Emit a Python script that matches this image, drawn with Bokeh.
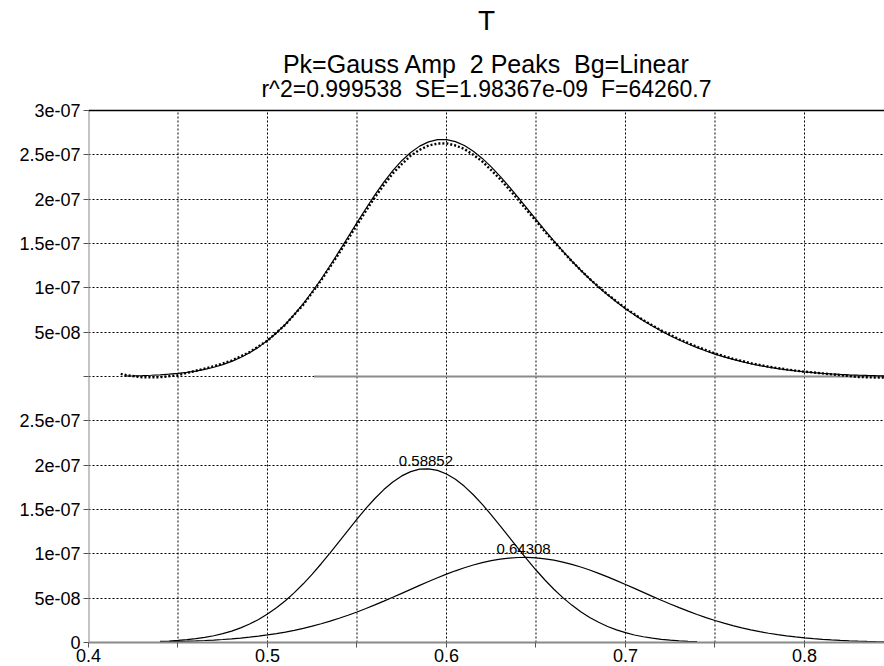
from bokeh.plotting import figure
from bokeh.models import Range1d, FixedTicker, Span, ColumnDataSource
from bokeh.core.properties import value
from bokeh.embed import file_html
from bokeh.resources import INLINE

# ---------------- data (y values in units of 1e-7) ----------------
UNIT = 1e-7
TOP_OFFSET = 3.0  # upper panel is stacked on top of the lower one (in 1e-7 units)

data_x = [0.418, 0.42, 0.43, 0.44, 0.45, 0.46, 0.47, 0.48, 0.49, 0.50, 0.51, 0.52,
          0.53, 0.54, 0.545, 0.55, 0.555, 0.56, 0.565, 0.57, 0.575, 0.58, 0.585, 0.59,
          0.595, 0.60, 0.605, 0.61, 0.615, 0.62, 0.625, 0.63, 0.635, 0.64, 0.645,
          0.65, 0.655, 0.66, 0.67, 0.68, 0.69, 0.70, 0.71, 0.72, 0.73, 0.74, 0.75, 0.76,
          0.77, 0.78, 0.79, 0.80, 0.81, 0.82, 0.83, 0.84, 0.845]
data_y = [0.03, 0.02, -0.01, -0.008, 0.015, 0.065, 0.115, 0.18, 0.275, 0.405, 0.585, 0.81,
          1.085, 1.39, 1.55, 1.71, 1.868, 2.02, 2.16, 2.29, 2.395, 2.49, 2.556, 2.605,
          2.627, 2.63, 2.605, 2.565, 2.50, 2.425, 2.327, 2.225, 2.112, 1.995, 1.873,
          1.755, 1.634, 1.52, 1.30, 1.10, 0.925, 0.77, 0.635, 0.52, 0.42, 0.335, 0.26, 0.20,
          0.15, 0.11, 0.08, 0.055, 0.035, 0.015, -0.005, -0.012, -0.012]

fit_x = [0.420, 0.425, 0.430, 0.435, 0.440, 0.445, 0.450, 0.455, 0.460, 0.465,
         0.470, 0.475, 0.480, 0.485, 0.490, 0.495, 0.500, 0.505, 0.510, 0.515,
         0.520, 0.525, 0.530, 0.535, 0.540, 0.545, 0.550, 0.555, 0.560, 0.565,
         0.570, 0.575, 0.580, 0.585, 0.590, 0.595, 0.600, 0.605, 0.610, 0.615,
         0.620, 0.625, 0.630, 0.635, 0.640, 0.645, 0.650, 0.655, 0.660, 0.665,
         0.670, 0.675, 0.680, 0.685, 0.690, 0.695, 0.700, 0.705, 0.710, 0.715,
         0.720, 0.725, 0.730, 0.735, 0.740, 0.745, 0.750, 0.755, 0.760, 0.765,
         0.770, 0.775, 0.780, 0.785, 0.790, 0.795, 0.800, 0.805, 0.810, 0.815,
         0.820, 0.825, 0.830, 0.835, 0.840, 0.845]
fit_y = [0.0054, 0.0075, 0.0103, 0.0141, 0.0192, 0.0260, 0.0349, 0.0464, 0.0612, 0.0801,
         0.1039, 0.1336, 0.1701, 0.2144, 0.2678, 0.3312, 0.4055, 0.4914, 0.5894, 0.6997,
         0.8220, 0.9557, 1.0996, 1.2519, 1.4106, 1.5727, 1.7354, 1.8952, 2.0483, 2.1914,
         2.3210, 2.4336, 2.5268, 2.5983, 2.6466, 2.6710, 2.6716, 2.6489, 2.6046, 2.5406,
         2.4594, 2.3638, 2.2568, 2.1414, 2.0203, 1.8965, 1.7720, 1.6489, 1.5291, 1.4135,
         1.3031, 1.1985, 1.0999, 1.0074, 0.9210, 0.8403, 0.7650, 0.6950, 0.6298, 0.5691,
         0.5127, 0.4604, 0.4119, 0.3671, 0.3257, 0.2877, 0.2530, 0.2213, 0.1927, 0.1669,
         0.1438, 0.1232, 0.1049, 0.0889, 0.0749, 0.0627, 0.0522, 0.0432, 0.0355, 0.0291,
         0.0237, 0.0191, 0.0154, 0.0123, 0.0098, 0.0077]

bg_x = [0.526, 0.845]
bg_y = [0.0, 0.0]

peak1_x = [0.440, 0.445, 0.450, 0.455, 0.460, 0.465, 0.470, 0.475, 0.480, 0.485,
           0.490, 0.495, 0.500, 0.505, 0.510, 0.515, 0.520, 0.525, 0.530, 0.535,
           0.540, 0.545, 0.550, 0.555, 0.560, 0.565, 0.570, 0.575, 0.580, 0.585,
           0.590, 0.595, 0.600, 0.605, 0.610, 0.615, 0.620, 0.625, 0.630, 0.635,
           0.640, 0.645, 0.650, 0.655, 0.660, 0.665, 0.670, 0.675, 0.680, 0.685,
           0.690, 0.695, 0.700, 0.705, 0.710, 0.715, 0.720, 0.725, 0.730, 0.735, 0.740]
peak1_y = [0.0120, 0.0168, 0.0232, 0.0318, 0.0431, 0.0576, 0.0762, 0.0997, 0.1289, 0.1646,
           0.2079, 0.2596, 0.3204, 0.3909, 0.4714, 0.5620, 0.6622, 0.7714, 0.8883, 1.0111,
           1.1377, 1.2653, 1.3912, 1.5120, 1.6243, 1.7250, 1.8109, 1.8791, 1.9275, 1.9545,
           1.9590, 1.9409, 1.9010, 1.8404, 1.7613, 1.6662, 1.5581, 1.4403, 1.3161, 1.1888,
           1.0614, 0.9369, 0.8174, 0.7049, 0.6010, 0.5065, 0.4219, 0.3474, 0.2828, 0.2275,
           0.1810, 0.1423, 0.1106, 0.0850, 0.0645, 0.0484, 0.0359, 0.0264, 0.0191, 0.0137, 0.0097]

peak2_x = [0.440, 0.445, 0.450, 0.455, 0.460, 0.465, 0.470, 0.475, 0.480, 0.485,
           0.490, 0.495, 0.500, 0.505, 0.510, 0.515, 0.520, 0.525, 0.530, 0.535,
           0.540, 0.545, 0.550, 0.555, 0.560, 0.565, 0.570, 0.575, 0.580, 0.585,
           0.590, 0.595, 0.600, 0.605, 0.610, 0.615, 0.620, 0.625, 0.630, 0.635,
           0.640, 0.645, 0.650, 0.655, 0.660, 0.665, 0.670, 0.675, 0.680, 0.685,
           0.690, 0.695, 0.700, 0.705, 0.710, 0.715, 0.720, 0.725, 0.730, 0.735,
           0.740, 0.745, 0.750, 0.755, 0.760, 0.765, 0.770, 0.775, 0.780, 0.785,
           0.790, 0.795, 0.800, 0.805, 0.810, 0.815, 0.820, 0.825, 0.830, 0.835,
           0.840, 0.845]
peak2_y = [0.0073, 0.0092, 0.0116, 0.0146, 0.0182, 0.0225, 0.0277, 0.0339, 0.0412, 0.0498,
           0.0599, 0.0716, 0.0851, 0.1005, 0.1180, 0.1377, 0.1598, 0.1843, 0.2113, 0.2408,
           0.2729, 0.3074, 0.3442, 0.3832, 0.4240, 0.4664, 0.5101, 0.5545, 0.5993, 0.6438,
           0.6876, 0.7301, 0.7706, 0.8085, 0.8433, 0.8744, 0.9013, 0.9235, 0.9407, 0.9526,
           0.9589, 0.9596, 0.9546, 0.9440, 0.9281, 0.9070, 0.8812, 0.8511, 0.8171, 0.7799,
           0.7400, 0.6980, 0.6544, 0.6100, 0.5653, 0.5207, 0.4768, 0.4340, 0.3928, 0.3534,
           0.3160, 0.2809, 0.2483, 0.2181, 0.1905, 0.1654, 0.1428, 0.1225, 0.1045, 0.0886,
           0.0747, 0.0626, 0.0521, 0.0432, 0.0355, 0.0291, 0.0237, 0.0191, 0.0154, 0.0123,
           0.0098, 0.0077]

peak_centers = [0.58852, 0.64308]
peak_heights = [1.96, 0.96]
peak_labels = ["0.58852", "0.64308"]

x_ticks = [0.4, 0.45, 0.5, 0.55, 0.6, 0.65, 0.7, 0.75, 0.8]
x_tick_labels = ["0.4", "", "0.5", "", "0.6", "", "0.7", "", "0.8"]
y_ticks = [0.0, 0.5, 1.0, 1.5, 2.0, 2.5, 3.0, 3.5, 4.0, 4.5, 5.0, 5.5, 6.0]
y_tick_labels = ["0", "5e-08", "1e-07", "1.5e-07", "2e-07", "2.5e-07", "",
                 "5e-08", "1e-07", "1.5e-07", "2e-07", "2.5e-07", "3e-07"]

NB = "\u00a0"
title_lines = ["T",
               "Pk=Gauss Amp " + NB + "2 Peaks " + NB + "Bg=Linear",
               "r^2=0.999538 " + NB + "SE=1.98367e-09 " + NB + "F=64260.7"]
title_sizes = ["28px", "25px", "23px"]
title_rise = [90, 47, 22]   # distance of each line's centre above the top of the plotting box, px

FONT = "Liberation Sans"
X_MIN, X_MAX = 0.4, 0.8447
Y_MIN, Y_MAX = 0.0, 6.0 * UNIT
PLOT_PX, HEADER_PX = 532, 110       # plotting box height and header height above it
Y_TOP = Y_MAX * (PLOT_PX + HEADER_PX) / PLOT_PX

# ---------------- figure ----------------
p = figure(width=884, height=666, output_backend="svg", toolbar_location=None,
           x_range=Range1d(X_MIN, X_MAX), y_range=Range1d(Y_MIN, Y_TOP),
           min_border_left=88, min_border_right=0, min_border_top=0, min_border_bottom=24,
           title=None)
p.outline_line_color = None
p.background_fill_color = "white"
p.border_fill_color = "white"

# axes
p.xaxis.ticker = FixedTicker(ticks=x_ticks)
p.xaxis.major_label_overrides = {t: l for t, l in zip(x_ticks, x_tick_labels)}
p.yaxis.ticker = FixedTicker(ticks=[v * UNIT for v in y_ticks])
p.yaxis.major_label_overrides = {v * UNIT: l for v, l in zip(y_ticks, y_tick_labels)}
for ax in (p.xaxis, p.yaxis):
    ax.axis_line_color = "#8a8a8a"
    ax.axis_line_width = 2
    ax.major_tick_line_color = "#555555"
    ax.major_tick_in = 0
    ax.major_tick_out = 5
    ax.minor_tick_line_color = None
    ax.major_label_text_font = FONT
    ax.major_label_text_color = "black"
p.yaxis.axis_line_color = None
p.xaxis.major_label_text_font_size = "18px"
p.yaxis.major_label_text_font_size = "18px"
p.xaxis.major_label_standoff = 1
p.yaxis.major_label_standoff = 3

p.ygrid.grid_line_color = "black"
p.ygrid.grid_line_dash = "2 2"
p.ygrid.grid_line_width = 1
p.xgrid.visible = False

# vertical dotted grid lines limited to the plotting box
gx = x_ticks[1:]
p.segment(x0=gx, y0=[Y_MIN] * len(gx), x1=gx, y1=[Y_MAX] * len(gx),
          line_color="black", line_dash="2 2", line_width=1)
# left axis line limited to the plotting box, and top border
p.segment(x0=[X_MIN], y0=[Y_MIN], x1=[X_MIN], y1=[Y_MAX], line_color="#8a8a8a", line_width=2)
p.add_layout(Span(location=Y_MAX, dimension="width", line_color="black", line_width=1.5))

# title lines, centred over the plotting box
xc = (X_MIN + X_MAX) / 2
for txt, size, rise in zip(title_lines, title_sizes, title_rise):
    p.text(x=[xc], y=[Y_MAX], text=[txt], y_offset=-rise, text_align="center",
           text_baseline="middle", text_font=value(FONT), text_font_size=size,
           text_color="black")

# ---------------- upper panel: data, fit, baseline ----------------
p.line(bg_x, [(v + TOP_OFFSET) * UNIT for v in bg_y], line_color="#8a8a8a", line_width=2)
p.line(data_x, [(v + TOP_OFFSET) * UNIT for v in data_y], line_color="black",
       line_width=2.4, line_dash="2 2")
p.line(fit_x, [(v + TOP_OFFSET) * UNIT for v in fit_y], line_color="black", line_width=1.2)

# ---------------- lower panel: components ----------------
p.line(peak1_x, [v * UNIT for v in peak1_y], line_color="black", line_width=1.2)
p.line(peak2_x, [v * UNIT for v in peak2_y], line_color="black", line_width=1.2)

lbl_src = ColumnDataSource(dict(x=peak_centers, y=[h * UNIT for h in peak_heights], t=peak_labels))
p.text(x="x", y="y", text="t", source=lbl_src, text_align="center", text_baseline="bottom",
       text_font=value(FONT), text_font_size="15px", text_color="black", y_offset=-3)

open("out.html", "w").write(file_html(p, INLINE))
